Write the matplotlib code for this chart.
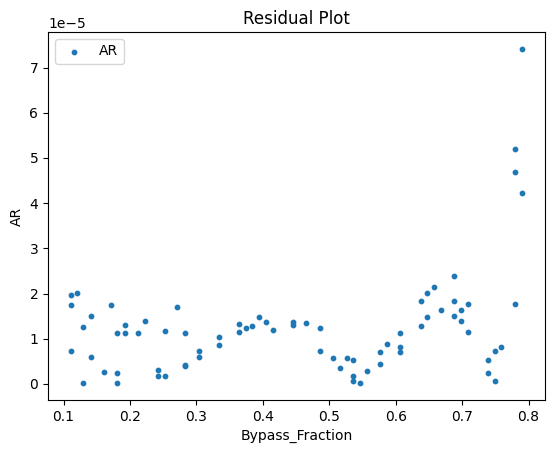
import numpy as np
import matplotlib.pyplot as plt

# Bypass fraction vs AR residuals
bypass = [
    0.1106, 0.1196, 0.1106, 0.171, 0.141, 0.130, 0.192, 0.222, 0.2715,
    0.181, 0.192, 0.2116, 0.252, 0.2825, 0.3338, 0.3338, 0.1106, 0.141,
    0.3036, 0.3036, 0.1603, 0.181, 0.2418, 0.2418, 0.252, 0.2825, 0.2825,
    0.130, 0.181,
    0.364, 0.364, 0.3745, 0.3836, 0.394, 0.4047, 0.4152, 0.4454, 0.4454,
    0.465, 0.4861, 0.4861, 0.5057, 0.5163, 0.5267, 0.5359, 0.5359, 0.5359,
    0.5465, 0.557, 0.5766, 0.5766, 0.5872, 0.606, 0.606, 0.606,
    0.6385, 0.6385, 0.6475, 0.6475, 0.6581, 0.6882, 0.6882, 0.6882, 0.6686,
    0.6988, 0.6988, 0.7094, 0.7094, 0.7802, 0.7395, 0.7395, 0.7501, 0.7501,
    0.7592,
    0.7908, 0.7802, 0.7802, 0.7908,
]
ar = [
    1.976, 2.02, 1.74, 1.74, 1.51, 1.25, 1.31, 1.40, 1.71,
    1.12, 1.12, 1.12, 1.18, 1.12, 1.03, 0.87, 0.72, 0.59,
    0.72, 0.59, 0.26, 0.24, 0.30, 0.17, 0.17, 0.43, 0.39,
    0.015, 0.015,
    1.337, 1.139, 1.227, 1.271, 1.491, 1.381, 1.183, 1.366, 1.293,
    1.359, 1.227, 0.720, 0.566, 0.346, 0.566, 0.522, 0.17, 0.06,
    0.015, 0.28, 0.698, 0.434, 0.874, 1.117, 0.808, 0.698,
    1.844, 1.271, 2.02, 1.491, 2.152, 2.394, 1.844, 1.513, 1.645,
    1.645, 1.403, 1.778, 1.139, 1.778, 0.522, 0.236, 0.720, 0.06,
    0.808,
    7.416, 5.19, 4.685, 4.222,
]
ar = np.array(ar) * 1e-5

fig = plt.figure(figsize=(5.54, 4.55), dpi=100)
ax = fig.add_subplot(111)
fig.subplots_adjust(left=0.0866, right=0.9838, top=0.9297, bottom=0.1209)

ax.scatter(bypass, ar, s=10, label='AR')
ax.set_xlabel('Bypass_Fraction')
ax.set_ylabel('AR')
ax.set_title('Residual Plot')
ax.legend(loc='upper left')

fig.savefig('out.png', dpi=100)
